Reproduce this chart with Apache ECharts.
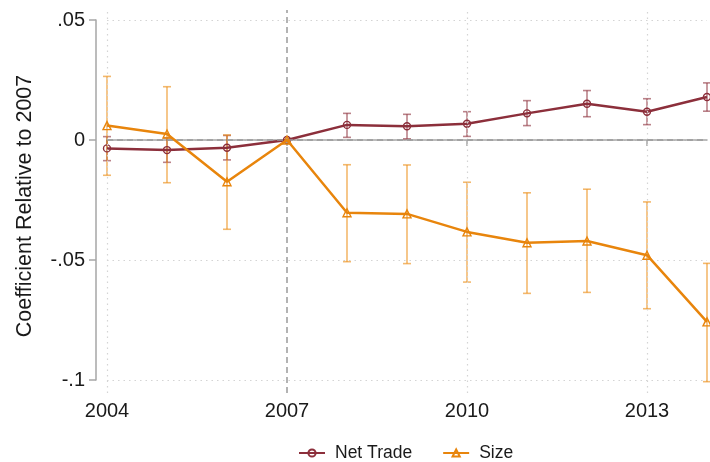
<!DOCTYPE html>
<html>
<head>
<meta charset="utf-8">
<script src="https://cdn.jsdelivr.net/npm/echarts@6/dist/echarts.min.js"></script>
<style>
  html, body { margin: 0; padding: 0; background: #fff; }
  #chart { width: 710px; height: 462px; }
</style>
</head>
<body>
<div id="chart"></div>
<script>
// Event-study coefficients relative to the 2007 base year
const years = [2004, 2005, 2006, 2007, 2008, 2009, 2010, 2011, 2012, 2013, 2014];

const netTrade     = [-0.0035, -0.0042, -0.0032, 0, 0.0063, 0.0057, 0.0068, 0.0111, 0.0151, 0.0118, 0.0179];
const netTradeLow  = [-0.0086, -0.0093, -0.0083, null, 0.0011, 0.0005, 0.0015, 0.0060, 0.0097, 0.0064, 0.0120];
const netTradeHigh = [0.0014, 0.0009, 0.0019, null, 0.0111, 0.0107, 0.0118, 0.0164, 0.0206, 0.0172, 0.0238];

const size     = [0.0060, 0.0025, -0.0174, 0, -0.0303, -0.0308, -0.0383, -0.0428, -0.0421, -0.0480, -0.0758];
const sizeLow  = [-0.0147, -0.0178, -0.0372, null, -0.0507, -0.0515, -0.0592, -0.0639, -0.0635, -0.0703, -0.1007];
const sizeHigh = [0.0265, 0.0222, 0.0021, null, -0.0103, -0.0104, -0.0176, -0.0220, -0.0205, -0.0258, -0.0514];

const xTicks = [2004, 2007, 2010, 2013];
const yTicks = [0.05, 0, -0.05, -0.1];
const yTickLabels = ['.05', '0', '-.05', '-.1'];

const FONT = '"Liberation Sans", Arial, Helvetica, sans-serif';
const RED = '#8c2f3b';
const RED_CI = 'rgba(140,47,59,0.6)';
const ORANGE = '#e8850c';
const ORANGE_CI = 'rgba(236,140,20,0.62)';

// Plot region (data) is padded slightly beyond the labelled y range
const PX_PER_UNIT = 2400;
const yMaxData = 0.05 + 10 / PX_PER_UNIT;
const yMinData = -0.1 - 13 / PX_PER_UNIT;

function ciData(lo, hi) {
  return years.map((y, i) => [y, lo[i], hi[i]]).filter(d => d[1] != null);
}

function errorBar(color) {
  return function (params, api) {
    const x = api.value(0);
    const pLo = api.coord([x, api.value(1)]);
    const pHi = api.coord([x, api.value(2)]);
    const half = 4;
    const style = { stroke: color, lineWidth: 1.6 };
    return {
      type: 'group',
      children: [
        { type: 'line', shape: { x1: pHi[0], y1: pHi[1], x2: pLo[0], y2: pLo[1] }, style },
        { type: 'line', shape: { x1: pHi[0] - half, y1: pHi[1], x2: pHi[0] + half, y2: pHi[1] }, style },
        { type: 'line', shape: { x1: pLo[0] - half, y1: pLo[1], x2: pLo[0] + half, y2: pLo[1] }, style }
      ]
    };
  };
}

const chart = echarts.init(document.getElementById('chart'), null, { renderer: 'canvas' });

const axisGray = '#a6a6a6';
const gridGray = '#d4d4d4';

chart.setOption({
  animation: false,
  backgroundColor: '#fff',
  textStyle: { fontFamily: FONT },
  grid: [
    { left: 107, right: 3, top: 10, bottom: 69 },   // data region
    { left: 107, right: 3, top: 20, bottom: 82 }    // labelled y range
  ],
  xAxis: [
    {
      type: 'value', gridIndex: 0, min: 2004, max: 2014, interval: 3,
      axisLine: { show: true, lineStyle: { color: axisGray, width: 1.5 } },
      axisTick: { show: true, length: 6, lineStyle: { color: axisGray, width: 1.5 }, customValues: xTicks },
      axisLabel: { show: true, margin: 8, fontSize: 20, color: '#1a1a1a', fontFamily: FONT, customValues: xTicks,
                   formatter: v => String(v) },
      splitLine: { show: false }
    },
    {
      type: 'value', gridIndex: 1, min: 2004, max: 2014, show: false
    }
  ],
  yAxis: [
    { type: 'value', gridIndex: 0, min: yMinData, max: yMaxData, show: false },
    {
      type: 'value', gridIndex: 1, min: -0.1, max: 0.05, interval: 0.05, offset: 11,
      axisLine: { show: true, lineStyle: { color: axisGray, width: 1.5 } },
      axisTick: { show: true, length: 7, lineStyle: { color: axisGray, width: 1.5 } },
      axisLabel: {
        margin: 11, fontSize: 20, color: '#1a1a1a', fontFamily: FONT,
        formatter: v => {
          const i = yTicks.findIndex(t => Math.abs(t - v) < 1e-9);
          return i >= 0 ? yTickLabels[i] : '';
        }
      },
      splitLine: { show: true, lineStyle: { color: gridGray, width: 1.2, type: [1.5, 4] } }
    }
  ],
  graphic: [
    {
      type: 'text', x: 25, y: 206, rotation: Math.PI / 2,
      style: {
        text: 'Coefficient Relative to 2007', fontSize: 21.5, fontFamily: FONT, fill: '#1a1a1a',
        align: 'center', verticalAlign: 'middle'
      }
    }
  ],
  legend: {
    data: ['Net Trade', 'Size'],
    left: 293, top: 439,
    itemWidth: 26, itemHeight: 9, itemGap: 30,
    textStyle: { fontSize: 17.5, color: '#1a1a1a', fontFamily: FONT, padding: [0, 0, 0, 5] }
  },
  series: [
    {
      // reference lines and dotted vertical gridlines
      type: 'line', xAxisIndex: 0, yAxisIndex: 0, data: [], silent: true,
      markLine: {
        silent: true, symbol: 'none', label: { show: false },
        data: [
          { xAxis: 2004, lineStyle: { color: gridGray, width: 1.2, type: [1.5, 4] } },
          { xAxis: 2010, lineStyle: { color: gridGray, width: 1.2, type: [1.5, 4] } },
          { xAxis: 2013, lineStyle: { color: gridGray, width: 1.2, type: [1.5, 4] } },
          { xAxis: 2007, lineStyle: { color: '#9a9a9a', width: 1.5, type: [6, 4] } },
          { yAxis: 0, lineStyle: { color: '#9a9a9a', width: 1.5, type: [6, 4] } }
        ]
      }
    },
    {
      name: 'Net Trade CI', type: 'custom', xAxisIndex: 0, yAxisIndex: 0,
      renderItem: errorBar(RED_CI), data: ciData(netTradeLow, netTradeHigh), z: 3
    },
    {
      name: 'Size CI', type: 'custom', xAxisIndex: 0, yAxisIndex: 0,
      renderItem: errorBar(ORANGE_CI), data: ciData(sizeLow, sizeHigh), z: 3
    },
    {
      name: 'Net Trade', type: 'line', xAxisIndex: 0, yAxisIndex: 0, z: 4,
      data: years.map((y, i) => [y, netTrade[i]]),
      color: RED,
      lineStyle: { color: RED, width: 2.5 },
      symbol: 'circle', symbolSize: 7,
      itemStyle: { color: 'rgba(0,0,0,0)', borderColor: RED, borderWidth: 1.4 }
    },
    {
      name: 'Size', type: 'line', xAxisIndex: 0, yAxisIndex: 0, z: 5,
      data: years.map((y, i) => [y, size[i]]),
      color: ORANGE,
      lineStyle: { color: ORANGE, width: 2.5 },
      symbol: 'triangle', symbolSize: 8,
      itemStyle: { color: 'rgba(0,0,0,0)', borderColor: ORANGE, borderWidth: 1.4 }
    }
  ]
});
</script>
</body>
</html>
